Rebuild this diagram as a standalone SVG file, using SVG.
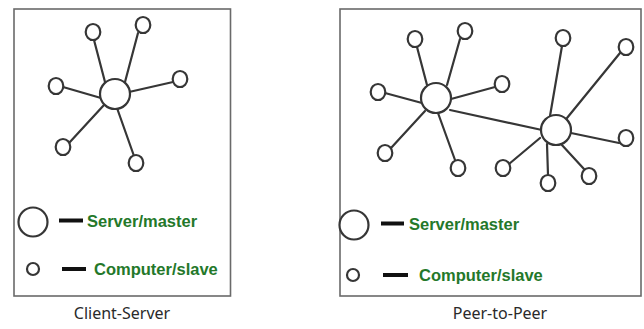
<svg xmlns="http://www.w3.org/2000/svg" width="644" height="329" viewBox="0 0 644 329">
  <style>
    .frame { fill: #fff; stroke: #6a6a6a; stroke-width: 1.6; }
    .link { stroke: #363636; stroke-width: 2.2; stroke-linecap: round; fill: none; }
    .hub { fill: #fff; stroke: #363636; stroke-width: 2.2; }
    .peer { fill: #fff; stroke: #363636; stroke-width: 2.2; }
    .dash { stroke: #111; stroke-width: 4; }
    .legend { font-family: "Liberation Sans", Arial, sans-serif; font-weight: bold; font-size: 16.5px; fill: #24782a; }
    .caption { font-family: "Noto Sans", "Open Sans", sans-serif; font-size: 16px; fill: #2a2a2a; }
  </style>
  <rect width="644" height="329" fill="#fff"/>

  <!-- Client-Server panel -->
  <rect id="frame-cs" class="frame" x="14" y="9" width="216.5" height="287"/>
  <g id="connectors-cs">
    <line class="link" x1="94" y1="40" x2="105" y2="82"/>
    <line class="link" x1="138" y1="33" x2="125" y2="82"/>
    <line class="link" x1="63" y1="87" x2="101" y2="98"/>
    <line class="link" x1="173" y1="82" x2="129" y2="92"/>
    <line class="link" x1="69" y1="143" x2="104" y2="105"/>
    <line class="link" x1="134" y1="156" x2="117" y2="108"/>
  </g>
  <g id="server-cs"><circle class="hub" cx="115" cy="94" r="15"/></g>
  <g id="client-cs-1"><ellipse class="peer" cx="93" cy="32" rx="7.3" ry="8"/></g>
  <g id="client-cs-2"><ellipse class="peer" cx="143" cy="25" rx="7.3" ry="8"/></g>
  <g id="client-cs-3"><ellipse class="peer" cx="56" cy="86" rx="7.3" ry="8"/></g>
  <g id="client-cs-4"><ellipse class="peer" cx="180" cy="79" rx="7.3" ry="8"/></g>
  <g id="client-cs-5"><ellipse class="peer" cx="63" cy="147" rx="7.3" ry="8"/></g>
  <g id="client-cs-6"><ellipse class="peer" cx="136" cy="163" rx="7.3" ry="8"/></g>

  <g id="legend-cs">
    <circle class="hub" cx="33" cy="222" r="14.5"/>
    <line class="dash" x1="59" y1="220.5" x2="83" y2="220.5"/>
    <text class="legend" x="87" y="227">Server/master</text>
    <circle class="peer" cx="33" cy="269" r="6"/>
    <line class="dash" x1="62" y1="269" x2="86" y2="269"/>
    <text class="legend" x="94" y="275">Computer/slave</text>
  </g>
  <text class="caption" x="122" y="319" text-anchor="middle">Client-Server</text>

  <!-- Peer-to-Peer panel -->
  <rect id="frame-p2p" class="frame" x="340" y="9" width="301" height="287"/>
  <g id="connectors-p2p">
    <line class="link" x1="417" y1="47" x2="427" y2="85"/>
    <line class="link" x1="460" y1="39" x2="447" y2="85"/>
    <line class="link" x1="385" y1="93" x2="422" y2="103"/>
    <line class="link" x1="495" y1="87" x2="451" y2="99"/>
    <line class="link" x1="391" y1="148" x2="425" y2="111"/>
    <line class="link" x1="455" y1="160" x2="438" y2="113"/>
    <line class="link" x1="450" y1="110" x2="542" y2="130"/>
    <line class="link" x1="562" y1="46" x2="550" y2="116"/>
    <line class="link" x1="620" y1="53" x2="567" y2="118"/>
    <line class="link" x1="619" y1="143" x2="571" y2="133"/>
    <line class="link" x1="509" y1="164" x2="540" y2="138"/>
    <line class="link" x1="548" y1="175" x2="547" y2="144"/>
    <line class="link" x1="584" y1="169" x2="561" y2="144"/>
  </g>
  <g id="peer-hub-a"><circle class="hub" cx="436" cy="98" r="15"/></g>
  <g id="peer-hub-b"><circle class="hub" cx="556" cy="130" r="15"/></g>
  <g id="peer-a-1"><ellipse class="peer" cx="415" cy="39" rx="7.3" ry="8"/></g>
  <g id="peer-a-2"><ellipse class="peer" cx="465" cy="31" rx="7.3" ry="8"/></g>
  <g id="peer-a-3"><ellipse class="peer" cx="378" cy="92" rx="7.3" ry="8"/></g>
  <g id="peer-a-4"><ellipse class="peer" cx="502" cy="84" rx="7.3" ry="8"/></g>
  <g id="peer-a-5"><ellipse class="peer" cx="385" cy="153" rx="7.3" ry="8"/></g>
  <g id="peer-a-6"><ellipse class="peer" cx="458" cy="168" rx="7.3" ry="8"/></g>
  <g id="peer-b-1"><ellipse class="peer" cx="563" cy="38" rx="7.3" ry="8"/></g>
  <g id="peer-b-2"><ellipse class="peer" cx="626" cy="47" rx="7.3" ry="8"/></g>
  <g id="peer-b-3"><ellipse class="peer" cx="626" cy="138" rx="7.3" ry="8"/></g>
  <g id="peer-b-4"><ellipse class="peer" cx="503" cy="168" rx="7.3" ry="8"/></g>
  <g id="peer-b-5"><ellipse class="peer" cx="548" cy="183" rx="7.3" ry="8"/></g>
  <g id="peer-b-6"><ellipse class="peer" cx="589" cy="176" rx="7.3" ry="8"/></g>

  <g id="legend-p2p">
    <circle class="hub" cx="354" cy="225" r="14.5"/>
    <line class="dash" x1="381" y1="223.5" x2="404" y2="223.5"/>
    <text class="legend" x="409" y="230">Server/master</text>
    <circle class="peer" cx="353" cy="275" r="6"/>
    <line class="dash" x1="383" y1="275" x2="408" y2="275"/>
    <text class="legend" x="419" y="281">Computer/slave</text>
  </g>
  <text class="caption" x="500" y="319" text-anchor="middle">Peer-to-Peer</text>
</svg>
